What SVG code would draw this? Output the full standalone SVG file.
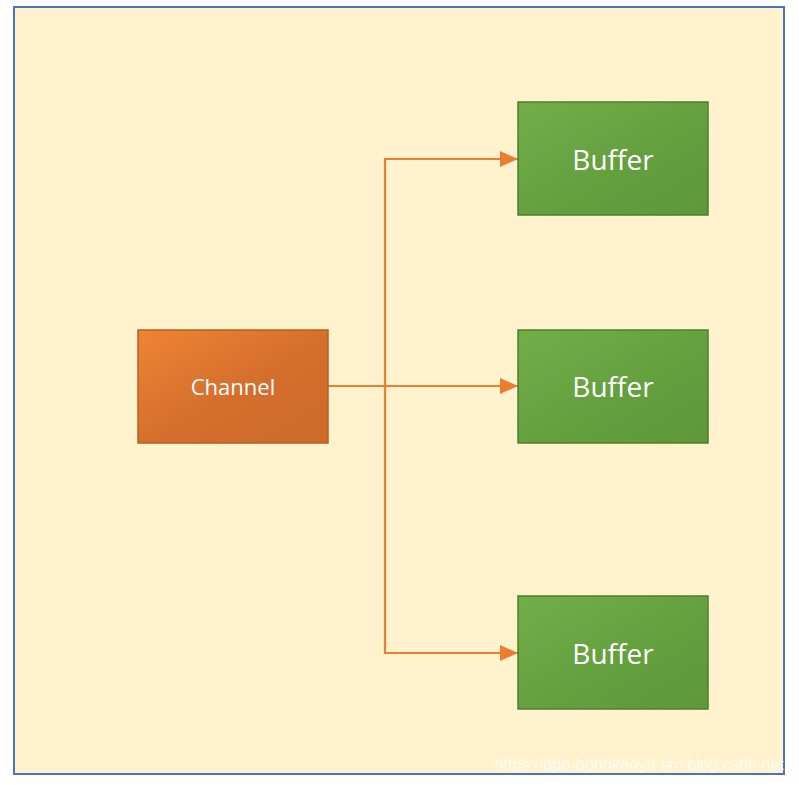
<svg xmlns="http://www.w3.org/2000/svg" width="799" height="785" viewBox="0 0 799 785">
<defs>
<linearGradient id="gOrange" x1="0" y1="0" x2="1" y2="1">
<stop offset="0" stop-color="#f08434"/>
<stop offset="0.55" stop-color="#d46e2c"/>
<stop offset="1" stop-color="#cc6a2c"/>
</linearGradient>
<linearGradient id="gGreen" x1="0" y1="0" x2="1" y2="1">
<stop offset="0" stop-color="#72ae48"/>
<stop offset="0.55" stop-color="#64a03e"/>
<stop offset="1" stop-color="#5e983a"/>
</linearGradient>
<marker id="arrowBig" viewBox="0 0 18 16" refX="18" refY="8" markerWidth="18" markerHeight="16" markerUnits="userSpaceOnUse" orient="auto">
<path d="M0,0 L18,8 L0,16 z" fill="#ed7d31"/>
</marker>
</defs>
<style>
.orange{fill:url(#gOrange);stroke:#b5611f;stroke-width:1.5}
.green{fill:url(#gGreen);stroke:#4e7f2f;stroke-width:1.5}
.label{font-family:"Open Sans","Noto Sans","Liberation Sans",sans-serif;fill:#ffffff;text-anchor:middle;dominant-baseline:central}
.edge{fill:none;stroke:#ed7d31;stroke-width:2.2}
</style>
<rect x="0" y="0" width="799" height="785" fill="#ffffff"/>
<rect id="frame" x="14" y="7" width="770" height="767" fill="#fff2cc" stroke="#4a72c0" stroke-width="2"/>
<g id="connectors">
<line class="edge" x1="328" y1="386" x2="386" y2="386" stroke-width="3"/>
<path class="edge" d="M385,386 V159 H518" marker-end="url(#arrowBig)"/>
<path class="edge" d="M385,386 H518" marker-end="url(#arrowBig)"/>
<path class="edge" d="M385,386 V653 H518" marker-end="url(#arrowBig)"/>
</g>
<g id="channel">
<rect class="orange" x="138" y="330" width="190" height="113"/>
<text class="label" x="233" y="386" font-size="22">Channel</text>
</g>
<g id="buffer1">
<rect class="green" x="518" y="102" width="190" height="113"/>
<text class="label" x="613" y="159" font-size="28">Buffer</text>
</g>
<g id="buffer2">
<rect class="green" x="518" y="330" width="190" height="113"/>
<text class="label" x="613" y="386" font-size="28">Buffer</text>
</g>
<g id="buffer3">
<rect class="green" x="518" y="596" width="190" height="113"/>
<text class="label" x="613" y="653" font-size="28">Buffer</text>
</g>
<text x="784" y="764" font-family="Liberation Sans, Arial, sans-serif" font-size="16.3" fill="#ffffff" fill-opacity="0.75" text-anchor="end" dominant-baseline="central">https://dpb-bobokaoya-sm.blog.csdn.net</text>
</svg>
